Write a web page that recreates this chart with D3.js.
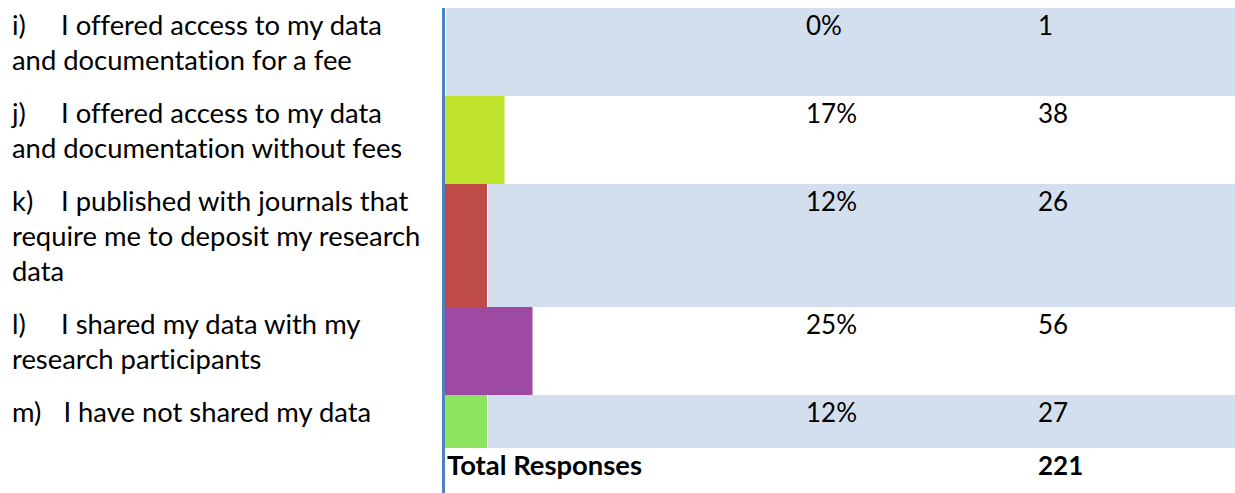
<!DOCTYPE html>
<html>
<head>
<meta charset="utf-8">
<script src="https://cdn.jsdelivr.net/npm/d3@7"></script>
<style>
  html, body { margin: 0; padding: 0; background: #ffffff; }
  svg { display: block; }
  text { font-family: Lato, "Open Sans", sans-serif; fill: #000000; font-variant-ligatures: none; }
</style>
</head>
<body>
<svg id="chart" width="1235" height="493"></svg>
<script>
// Survey item markers and their wrapped label lines
const markers = ["i)", "j)", "k)", "l)", "m)"];
const labelLines = [
  ["I offered access to my data", "and documentation for a fee"],
  ["I offered access to my data", "and documentation without fees"],
  ["I published with journals that", "require me to deposit my research", "data"],
  ["I shared my data with my", "research participants"],
  ["I have not shared my data"]
];
// Share of respondents (%) and response counts
const percents = [0, 17, 12, 25, 12];
const counts = [1, 38, 26, 56, 27];
const barColors = ["#4f81bd", "#c0e32b", "#be4b48", "#9e49a2", "#8de45f"];
const totalLabel = "Total Responses";
const totalCount = 221;

const W = 1235, H = 493;
const labelFont = 27.4;
const numFont = 26;
const lineH = 35;
const rowPad = 18;
const baseOffset = 27;
const tableTop = 8;
const axisX = 442;
const plotLeft = 445;
const pctX = 806;
const countX = 1038;

const svg = d3.select("#chart");

// Row layout: height grows with the number of label lines
let yCursor = tableTop;
const rows = markers.map((m, i) => {
  const h = labelLines[i].length * lineH + rowPad;
  const r = { marker: m, lines: labelLines[i], pct: percents[i], count: counts[i],
              color: barColors[i], y: yCursor, h: h, band: i % 2 === 0 };
  yCursor += h;
  return r;
});
const totalY = yCursor;

const x = d3.scaleLinear().domain([0, 100]).range([plotLeft, plotLeft + 350]);

const g = svg.append("g");

// Shaded background bands on alternating rows (start just past the bar)
g.selectAll("rect.band")
  .data(rows.filter(r => r.band))
  .join("rect")
  .attr("class", "band")
  .attr("x", r => x(r.pct) + 1)
  .attr("y", r => r.y)
  .attr("width", r => W - x(r.pct) - 1)
  .attr("height", r => r.h)
  .attr("fill", "#d3dfee");

// Bars
g.selectAll("rect.bar")
  .data(rows)
  .join("rect")
  .attr("class", "bar")
  .attr("x", x(0))
  .attr("y", r => r.y)
  .attr("width", r => x(r.pct) - x(0))
  .attr("height", r => r.h)
  .attr("fill", r => r.color);

// Vertical axis rule
g.append("rect")
  .attr("x", axisX)
  .attr("y", tableTop)
  .attr("width", plotLeft - axisX)
  .attr("height", H - tableTop)
  .attr("fill", "#4f81bd");

// Left-hand labels
const labels = g.selectAll("g.label")
  .data(rows)
  .join("g")
  .attr("class", "label");

labels.each(function(r) {
  const sel = d3.select(this);
  const mk = sel.append("text")
    .attr("x", 12)
    .attr("y", r.y + baseOffset)
    .attr("font-size", labelFont)
    .text(r.marker);
  const mkEnd = 12 + mk.node().getComputedTextLength();
  const firstX = Math.max(61, mkEnd + 22);
  r.lines.forEach((line, k) => {
    sel.append("text")
      .attr("x", k === 0 ? firstX : 12)
      .attr("y", r.y + baseOffset + k * lineH)
      .attr("font-size", labelFont)
      .text(line);
  });
});

// Percentage and count columns
g.selectAll("text.pct")
  .data(rows)
  .join("text")
  .attr("class", "pct")
  .attr("x", pctX)
  .attr("y", r => r.y + baseOffset)
  .attr("font-size", numFont)
  .text(r => d3.format(".0f")(r.pct) + "%");

g.selectAll("text.count")
  .data(rows)
  .join("text")
  .attr("class", "count")
  .attr("x", countX)
  .attr("y", r => r.y + baseOffset)
  .attr("font-size", numFont)
  .text(r => r.count);

// Total row
g.append("text")
  .attr("x", 447)
  .attr("y", totalY + baseOffset)
  .attr("font-size", labelFont)
  .attr("font-weight", "bold")
  .text(totalLabel);

g.append("text")
  .attr("x", countX)
  .attr("y", totalY + baseOffset)
  .attr("font-size", numFont)
  .attr("font-weight", "bold")
  .text(totalCount);
</script>
</body>
</html>
